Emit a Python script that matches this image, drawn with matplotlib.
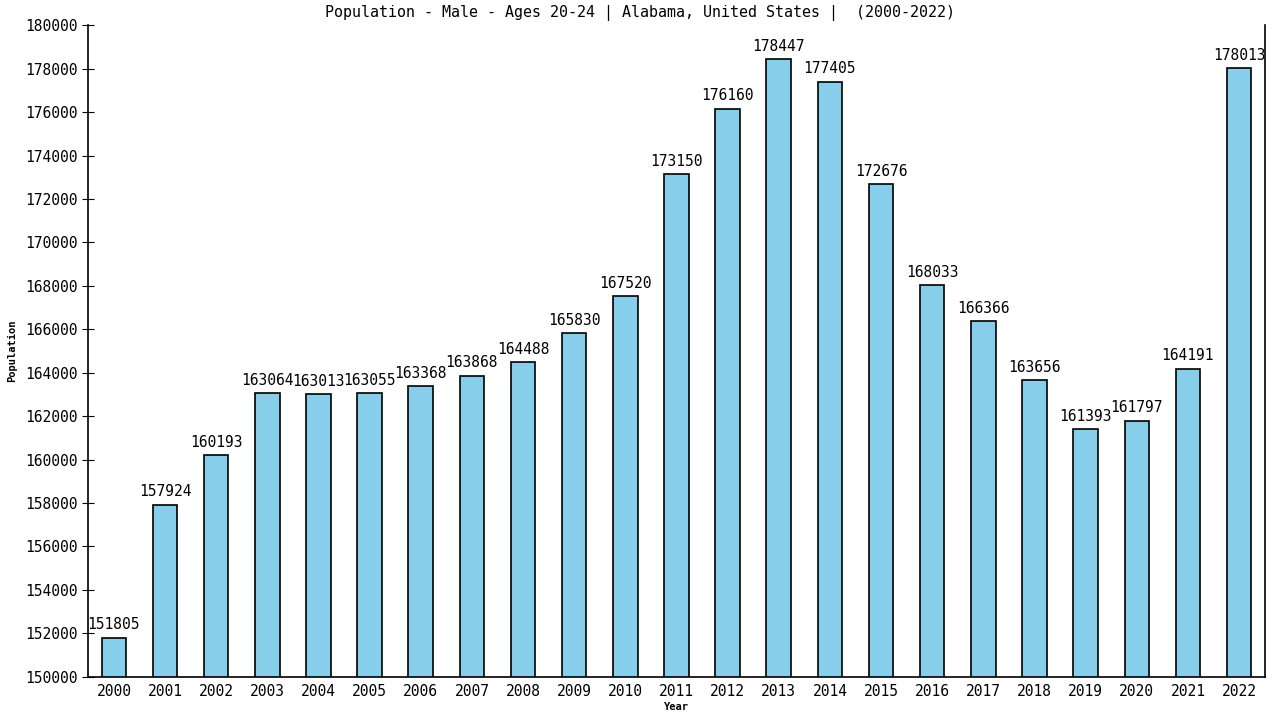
import matplotlib
matplotlib.use("Agg")
import matplotlib.pyplot as plt

years = [str(y) for y in range(2000, 2023)]
population = [151805, 157924, 160193, 163064, 163013, 163055, 163368, 163868,
              164488, 165830, 167520, 173150, 176160, 178447, 177405, 172676,
              168033, 166366, 163656, 161393, 161797, 164191, 178013]

plt.rcParams["font.family"] = "DejaVu Sans Mono"

fig = plt.figure(figsize=(12.8, 7.2), dpi=100)
ax = fig.add_axes([0.069, 0.06, 0.919, 0.905])

x = list(range(len(years)))
ax.bar(x, population, width=0.48, color="#87ceeb", edgecolor="black", linewidth=1.2)
for xi, v in zip(x, population):
    ax.text(xi, v + 250, str(v), ha="center", va="bottom", fontsize=10.5)

ax.set_xlim(-0.5, len(years) - 0.5)
ax.set_ylim(150000, 180000)
ax.set_yticks(range(150000, 180001, 2000))
ax.set_xticks(x)
ax.set_xticklabels(years)
ax.tick_params(axis="y", direction="inout", length=8, labelsize=10.5)
ax.tick_params(axis="x", length=0, labelsize=10.5, pad=5)
ax.spines["top"].set_visible(False)
for s in ["left", "right", "bottom"]:
    ax.spines[s].set_linewidth(1.2)

fig.suptitle("Population - Male - Ages 20-24 | Alabama, United States |  (2000-2022)",
             x=0.5, y=0.982, va="center", fontsize=10.8)
ax.set_xlabel("Year", fontsize=7.5, fontweight="bold", labelpad=2)
ax.set_ylabel("Population", fontsize=7.5, fontweight="bold", labelpad=6)

fig.savefig("out.png", dpi=100)
